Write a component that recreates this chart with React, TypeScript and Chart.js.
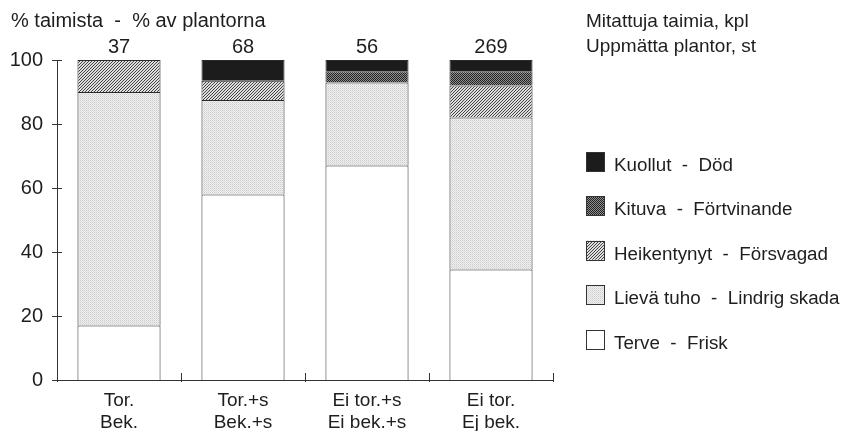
import React, { useEffect, useRef } from "react";
import { Chart, registerables } from "chart.js";

Chart.register(...registerables);

const categories: string[][] = [
  ["Tor.", "Bek."],
  ["Tor.+s", "Bek.+s"],
  ["Ei tor.+s", "Ei bek.+s"],
  ["Ei tor.", "Ej bek."],
];
const seriesLabels = [
  "Terve  -  Frisk",
  "Lievä tuho  -  Lindrig skada",
  "Heikentynyt  -  Försvagad",
  "Kituva  -  Förtvinande",
  "Kuollut  -  Död",
];
const terve = [17, 58, 67, 34.5];
const lieva = [73, 29.5, 26, 47.5];
const heikentynyt = [10, 6, 0, 10];
const kituva = [0, 0, 3.5, 4.5];
const kuollut = [0, 6.5, 3.5, 3.5];
const counts = [37, 68, 56, 269];
const yTicks = [0, 20, 40, 60, 80, 100];
const titleText = "% taimista  -  % av plantorna";
const countTitle = ["Mitattuja taimia, kpl", "Uppmätta plantor, st"];

const FONT = "'Liberation Sans', Arial, Helvetica, sans-serif";
const TEXT = "#1e1e1e";

function makePattern(ctx: CanvasRenderingContext2D, kind: string): CanvasPattern | string {
  const c = document.createElement("canvas");
  const g = c.getContext("2d")!;
  if (kind === "stipple") {
    c.width = 2; c.height = 2;
    g.fillStyle = "#efefef"; g.fillRect(0, 0, 2, 2);
    g.fillStyle = "#cdcdcd"; g.fillRect(0, 0, 1, 1);
    g.fillStyle = "#dedede"; g.fillRect(1, 1, 1, 1);
  } else if (kind === "hatch") {
    c.width = 3; c.height = 3;
    g.fillStyle = "#dedede"; g.fillRect(0, 0, 3, 3);
    g.fillStyle = "#444444";
    g.fillRect(0, 2, 1, 1); g.fillRect(1, 1, 1, 1); g.fillRect(2, 0, 1, 1);
  } else if (kind === "checker") {
    c.width = 2; c.height = 2;
    g.fillStyle = "#8e8e8e"; g.fillRect(0, 0, 2, 2);
    g.fillStyle = "#222222"; g.fillRect(0, 0, 1, 1); g.fillRect(1, 1, 1, 1);
  } else {
    return "#1c1c1c";
  }
  return ctx.createPattern(c, "repeat")!;
}

const decorPlugin = {
  id: "decor",
  afterDraw(chart: any) {
    const ctx: CanvasRenderingContext2D = chart.ctx;
    const xs = chart.scales.x;
    const ys = chart.scales.y;
    const area = chart.chartArea;
    ctx.save();
    // tick marks crossing axes
    ctx.strokeStyle = "#333";
    ctx.lineWidth = 1;
    ctx.beginPath();
    yTicks.forEach((v) => {
      const py = Math.round(ys.getPixelForValue(v)) + 0.5;
      ctx.moveTo(area.left - 5, py);
      ctx.lineTo(area.left + 5, py);
    });
    for (let i = 0; i <= categories.length; i++) {
      const px = Math.round(xs.getPixelForValue(i - 0.5)) + 0.5;
      ctx.moveTo(px, area.bottom - 7);
      ctx.lineTo(px, area.bottom + 2);
    }
    ctx.stroke();

    ctx.fillStyle = TEXT;
    ctx.textBaseline = "alphabetic";
    // title
    ctx.font = `20px ${FONT}`;
    ctx.textAlign = "left";
    ctx.fillText(titleText, 11, 27);
    // counts above bars
    ctx.textAlign = "center";
    const meta = chart.getDatasetMeta(0);
    counts.forEach((n, i) => {
      ctx.fillText(String(n), meta.data[i].x, area.top - 7);
    });
    // count title
    ctx.textAlign = "left";
    ctx.font = `19px ${FONT}`;
    ctx.fillText(countTitle[0], 586, 27);
    ctx.fillText(countTitle[1], 586, 52);
    // legend
    ctx.font = `18.8px ${FONT}`;
    const ds = chart.data.datasets;
    for (let k = 0; k < ds.length; k++) {
      const d = ds[ds.length - 1 - k];
      const top = 152 + k * 44.4;
      const bx = 586;
      ctx.fillStyle = d.backgroundColor;
      ctx.fillRect(bx, top, 18, 19);
      ctx.strokeStyle = "#333";
      ctx.strokeRect(bx + 0.5, Math.round(top) + 0.5, 18, 19);
      ctx.fillStyle = TEXT;
      ctx.fillText(d.label, 614, top + 19);
    }
    ctx.restore();
  },
};

export default function App() {
  const ref = useRef<HTMLCanvasElement>(null);
  useEffect(() => {
    const canvas = ref.current!;
    const ctx = canvas.getContext("2d")!;
    const fills = [
      "#ffffff",
      makePattern(ctx, "stipple"),
      makePattern(ctx, "hatch"),
      makePattern(ctx, "checker"),
      makePattern(ctx, "solid"),
    ];
    const values = [terve, lieva, heikentynyt, kituva, kuollut];
    const chart = new Chart(canvas, {
      type: "bar",
      data: {
        labels: categories,
        datasets: values.map((v, i) => ({
          label: seriesLabels[i],
          data: v,
          backgroundColor: fills[i] as any,
          borderColor: "#2a2a2a",
          borderWidth: 1,
          borderSkipped: "start",
          categoryPercentage: 1,
          barPercentage: 0.67,
        })),
      },
      options: {
        responsive: false,
        animation: false,
        events: [],
        layout: { padding: { left: 0, top: 60, right: 290, bottom: 0 } },
        plugins: {
          legend: { display: false },
          tooltip: { enabled: false },
          title: { display: false },
        },
        scales: {
          x: {
            stacked: true,
            grid: { display: false },
            border: { display: true, color: "#333", width: 1 },
            ticks: {
              color: TEXT,
              font: { family: FONT, size: 19, lineHeight: 1.16 },
              padding: 2,
              maxRotation: 0,
              autoSkip: false,
            },
            afterFit: (s: any) => { s.height = 51; },
          },
          y: {
            stacked: true,
            min: 0,
            max: 100,
            grid: { display: false },
            border: { display: true, color: "#333", width: 1 },
            ticks: {
              stepSize: 20,
              color: TEXT,
              font: { family: FONT, size: 20 },
              padding: 6,
            },
            afterFit: (s: any) => { s.width = 57; },
          },
        },
      },
      plugins: [decorPlugin],
    });
    return () => chart.destroy();
  }, []);
  return (
    <div style={{ position: "absolute", left: 0, top: 0, width: 843, height: 431, background: "#fff" }}>
      <canvas ref={ref} width={843} height={431} style={{ display: "block" }} />
    </div>
  );
}
